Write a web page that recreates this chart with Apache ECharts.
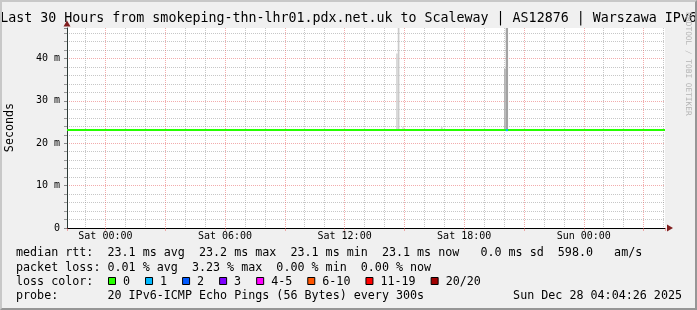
<!DOCTYPE html>
<html><head><meta charset="utf-8">
<script src="https://cdn.jsdelivr.net/npm/echarts@6/dist/echarts.min.js"></script>
<style>
html,body{margin:0;padding:0;background:#f0f0f0;overflow:hidden;}
#c{position:absolute;left:0;top:0;width:697px;height:310px;}
#frame{position:absolute;left:0;top:0;width:697px;height:310px;box-sizing:border-box;border-left:2px solid #c8c8c8;border-top:2px solid #c8c8c8;border-right:2px solid #969696;border-bottom:2px solid #969696;pointer-events:none;}
</style></head><body>
<div id="c"></div><div id="frame"></div>
<script>
// ---- data (hours relative to Sat 00:00) ----
const titleText = 'Last 30 Hours from smokeping-thn-lhr01.pdx.net.uk to Scaleway | AS12876 | Warszawa IPv6';
const xStartHour = -1.926;
const xEndHour = 28.074;
const xTickHours = [0, 6, 12, 18, 24];
const xTickLabels = ['Sat 00:00', 'Sat 06:00', 'Sat 12:00', 'Sat 18:00', 'Sun 00:00'];
const yTickValues = [0, 10, 20, 30, 40];
const yTickLabels = ['0', '10 m', '20 m', '30 m', '40 m'];
const yMax = 47.2;
const yAxisTitle = 'Seconds';

const medianHours = [-1.926, -1, 0, 1, 2, 3, 4, 5, 6, 7, 8, 9, 10, 11, 12, 13, 14, 15, 16, 17, 18, 19, 20, 21, 22, 23, 24, 25, 26, 27, 28, 28.074];
const medianValues = [23.1, 23.1, 23.1, 23.1, 23.1, 23.1, 23.1, 23.1, 23.1, 23.1, 23.1, 23.1, 23.1, 23.1, 23.1, 23.1, 23.1, 23.1, 23.1, 23.1, 23.1, 23.1, 23.1, 23.1, 23.1, 23.1, 23.1, 23.1, 23.1, 23.1, 23.1, 23.1];

const lossHours = [20.083, 20.2];
const lossValues = [23.1, 23.1];

const smokeStart = [14.583, 14.667, 14.9, 16.83, 20.0, 20.083];
const smokeEnd   = [14.667, 14.75, 14.96, 16.92, 20.083, 20.2];
const smokeLow   = [23.1, 23.1, 23.1, 23.1, 23.1, 23.1];
const smokeHigh  = [41.2, 48.0, 23.9, 23.8, 37.6, 48.0];
const smokeLevel = [0, 1, 0, 0, 2, 3];

const lossLabels = ['0', '1', '2', '3', '4-5', '6-10', '11-19', '20/20'];
const lossColors = ['#26ff00', '#00b8ff', '#0059ff', '#7e00ff', '#ff00ff', '#ff5500', '#ff0000', '#a00000'];

const statsRtt  = 'median rtt:  23.1 ms avg  23.2 ms max  23.1 ms min  23.1 ms now   0.0 ms sd  598.0   am/s';
const statsLoss = 'packet loss: 0.01 % avg  3.23 % max  0.00 % min  0.00 % now';
const lossTitle = 'loss color:';
const probeText = 'probe:       20 IPv6-ICMP Echo Pings (56 Bytes) every 300s';
const dateText  = 'Sun Dec 28 04:04:26 2025';
const creditText = 'RRDTOOL / TOBI OETIKER';

// ---- styles ----
const MONO = "'DejaVu Sans Mono', monospace";
const smokeShades = ['#d6d6d6', '#cacaca', '#b2b2b2', '#a2a2a2'];
const gridGray = 'rgba(143,143,143,0.5)';
const gridRed = 'rgba(230,90,90,0.5)';
const arrowColor = '#801e1e';

const chart = echarts.init(document.getElementById('c'), null, {renderer: 'canvas'});

const graphic = [];
graphic.push({type: 'text', x: 348.5, y: 19, style: {text: titleText, font: '13.3px ' + MONO, fill: '#000', align: 'center', verticalAlign: 'middle'}});
graphic.push({type: 'text', x: 10, y: 127.5, rotation: Math.PI / 2, style: {text: yAxisTitle, font: '11.7px ' + MONO, fill: '#000', align: 'center', verticalAlign: 'middle'}});
graphic.push({type: 'text', x: 688, y: 64, rotation: -Math.PI / 2, style: {text: creditText, font: '7.8px ' + MONO, fill: '#b4b4b4', align: 'center', verticalAlign: 'middle'}});
graphic.push({type: 'text', x: 16, y: 253.3, style: {text: statsRtt, font: '11.7px ' + MONO, fill: '#000', verticalAlign: 'middle'}});
graphic.push({type: 'text', x: 16, y: 268.3, style: {text: statsLoss, font: '11.7px ' + MONO, fill: '#000', verticalAlign: 'middle'}});
graphic.push({type: 'text', x: 16, y: 281.7, style: {text: lossTitle, font: '11.7px ' + MONO, fill: '#000', verticalAlign: 'middle'}});
graphic.push({type: 'text', x: 16, y: 296, style: {text: probeText, font: '11.7px ' + MONO, fill: '#000', verticalAlign: 'middle'}});
graphic.push({type: 'text', x: 682, y: 296, style: {text: dateText, font: '11.7px ' + MONO, fill: '#000', align: 'right', verticalAlign: 'middle'}});
let lx = 108.5;
lossLabels.forEach((lab, i) => {
  graphic.push({type: 'rect', shape: {x: lx, y: 277.5, width: 7, height: 7}, style: {fill: lossColors[i], stroke: '#000', lineWidth: 1}});
  graphic.push({type: 'text', x: lx + 14.5, y: 281.7, style: {text: lab, font: '11.7px ' + MONO, fill: '#000', verticalAlign: 'middle'}});
  lx += 30 + 7.04 * lab.length;
});

const option = {
  backgroundColor: '#f0f0f0',
  animation: false,
  grid: {left: 67, right: 32, top: 28, bottom: 82, show: true, backgroundColor: '#ffffff', borderWidth: 0},
  xAxis: [{
    type: 'value', min: xStartHour, max: xEndHour, splitNumber: 10,
    axisLine: {show: true, onZero: false, lineStyle: {color: '#000', width: 1}},
    axisTick: {show: true, length: 3, lineStyle: {color: gridRed}},
    minorTick: {show: false, splitNumber: 3},
    axisLabel: {margin: 3, fontFamily: MONO, fontSize: 10, color: '#000',
      formatter: v => { const k = xTickHours.findIndex(h => Math.abs(h - v) < 1e-6); return k >= 0 ? xTickLabels[k] : ''; }},
    splitLine: {show: true, showMinLine: false, showMaxLine: false, lineStyle: {color: gridRed, type: [1, 1]}},
    minorSplitLine: {show: true, lineStyle: {color: gridGray, type: [1, 1]}}
  }, {
    type: 'value', min: xStartHour, max: xEndHour, position: 'bottom', offset: 0,
    axisLine: {show: true, onZero: false, symbol: ['none', 'triangle'], symbolSize: [7, 6], symbolOffset: [0, 5],
      lineStyle: {color: arrowColor, opacity: 0}},
    axisTick: {show: false}, axisLabel: {show: false}, splitLine: {show: false}
  }],
  yAxis: [{
    type: 'value', min: 0, max: yMax, splitNumber: 5,
    axisLine: {show: true, onZero: false, lineStyle: {color: '#2c3a36', width: 1}},
    axisTick: {show: true, length: 3, lineStyle: {color: '#888'}},
    minorTick: {show: true, splitNumber: 5, length: 3, lineStyle: {color: '#999'}},
    axisLabel: {margin: 7, fontFamily: MONO, fontSize: 10, color: '#000',
      formatter: v => { const k = yTickValues.findIndex(t => Math.abs(t - v) < 1e-6); return k >= 0 ? yTickLabels[k] : ''; }},
    splitLine: {show: true, showMinLine: false, showMaxLine: false, lineStyle: {color: gridRed, type: [1, 1]}},
    minorSplitLine: {show: true, lineStyle: {color: gridGray, type: [1, 1]}}
  }, {
    type: 'value', min: 0, max: yMax, position: 'left', offset: 0,
    axisLine: {show: true, onZero: false, symbol: ['none', 'triangle'], symbolSize: [7, 6], symbolOffset: [0, 4.5],
      lineStyle: {color: arrowColor, opacity: 0}},
    axisTick: {show: false}, axisLabel: {show: false}, splitLine: {show: false}
  }],
  graphic: graphic,
  series: [{
    type: 'custom', z: 1, silent: true,
    encode: {x: [0, 1], y: [2, 3]},
    renderItem: (params, api) => {
      const a = api.coord([api.value(0), api.value(3)]);
      const b = api.coord([api.value(1), api.value(2)]);
      const cs = params.coordSys;
      const r = echarts.graphic.clipRectByRect(
        {x: a[0], y: a[1], width: b[0] - a[0], height: b[1] - a[1]},
        {x: cs.x, y: cs.y, width: cs.width, height: cs.height});
      if (!r) return null;
      return {type: 'rect', shape: r, style: {fill: smokeShades[api.value(4)]}};
    },
    data: smokeStart.map((s, i) => [s, smokeEnd[i], smokeLow[i], smokeHigh[i], smokeLevel[i]])
  }, {
    type: 'line', z: 3, silent: true, showSymbol: false,
    lineStyle: {color: lossColors[0], width: 2},
    data: medianHours.map((h, i) => [h, medianValues[i]])
  }, {
    type: 'line', z: 4, silent: true, showSymbol: false,
    lineStyle: {color: lossColors[1], width: 2},
    data: lossHours.map((h, i) => [h, lossValues[i]])
  }]
};
chart.setOption(option);
</script>
</body></html>
